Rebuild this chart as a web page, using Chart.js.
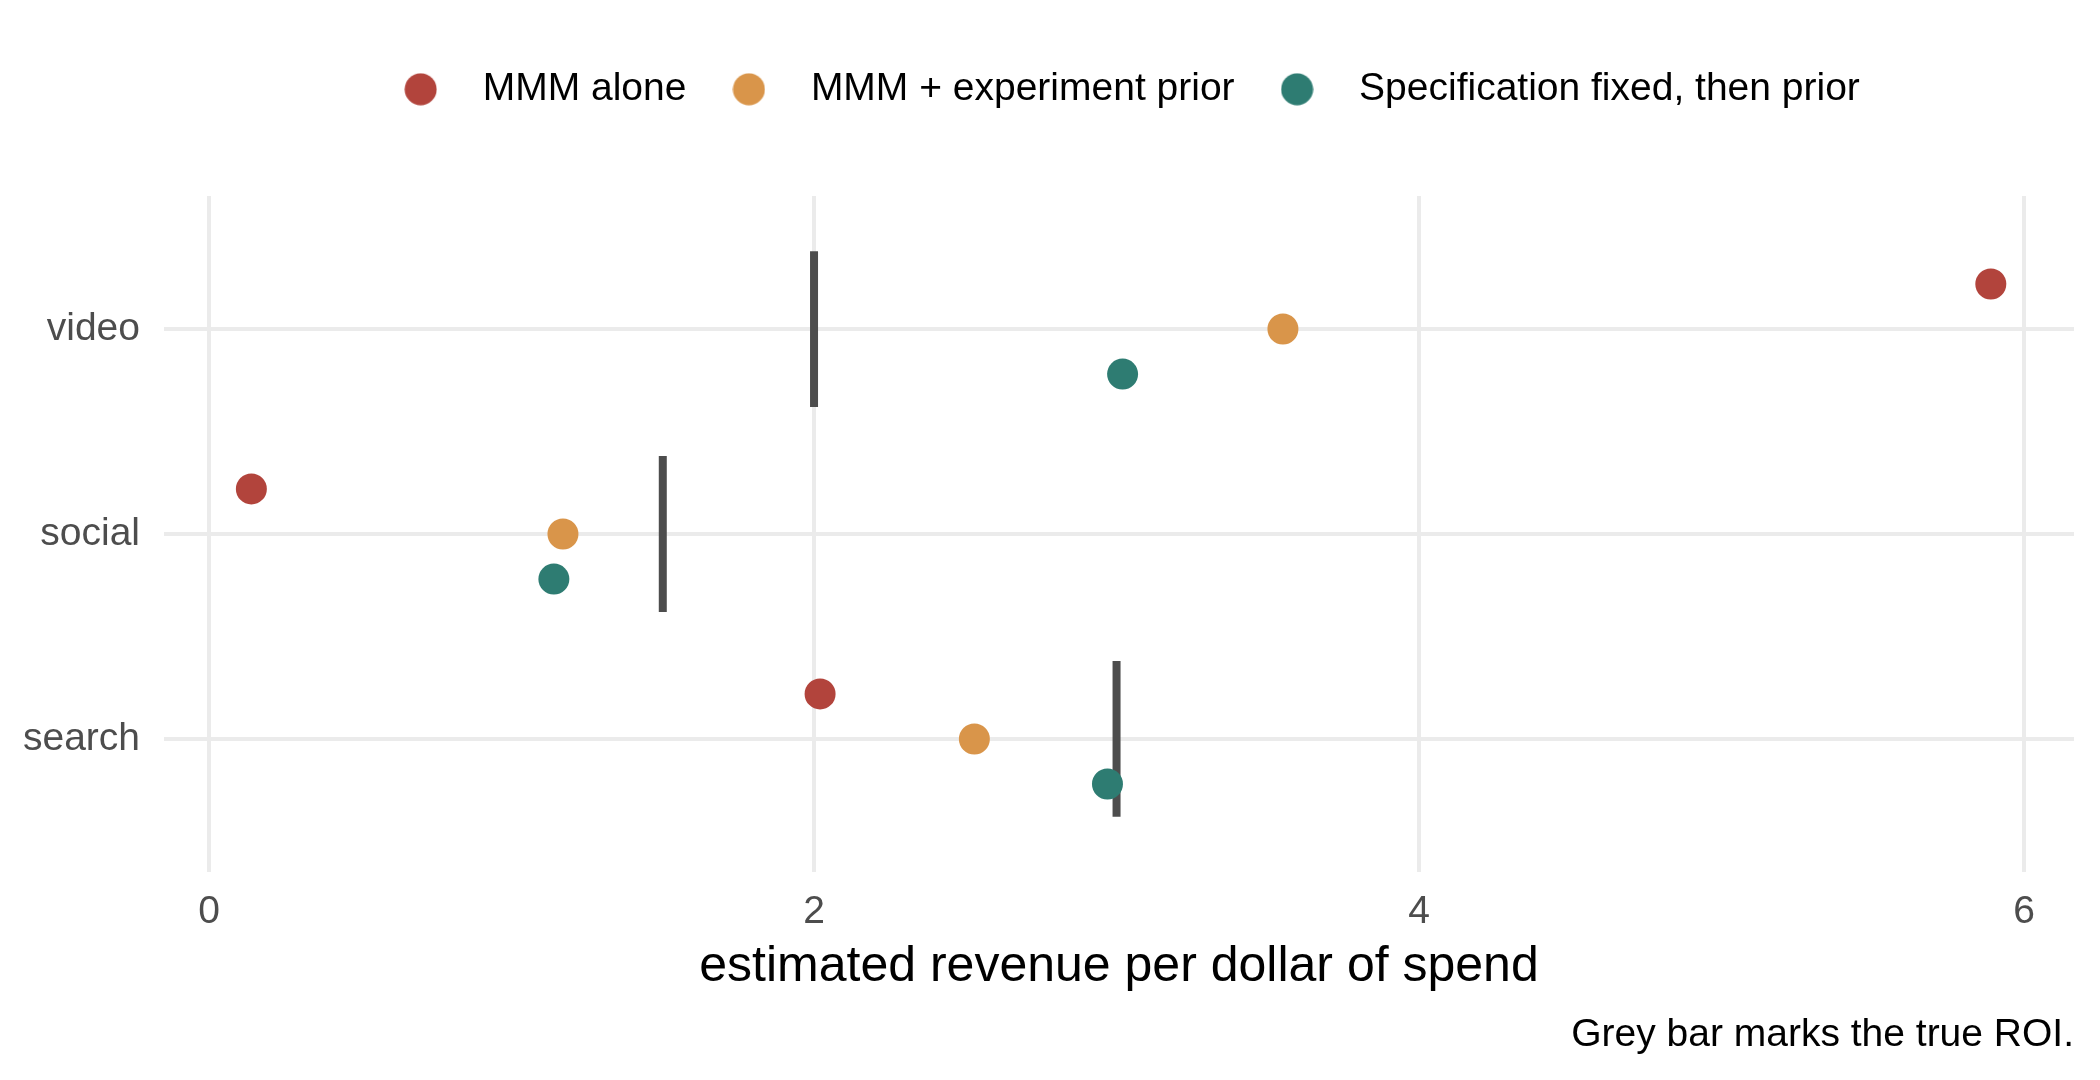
<!DOCTYPE html>
<html>
<head>
<meta charset="utf-8">
<title>ROI estimates by channel</title>
<script src="https://cdn.jsdelivr.net/npm/chart.js@4.4.1/dist/chart.umd.min.js"></script>
<style>
    body { margin: 0; background: #ffffff; }
    #wrap { width: 2100px; height: 1080px; }
</style>
</head>
<body>
<div id="wrap"><canvas id="roiChart" width="2100" height="1080"></canvas></div>
<script>
// Chart data
const channels = ['search', 'social', 'video'];
const seriesNames = ['MMM alone', 'MMM + experiment prior', 'Specification fixed, then prior'];
const mmmAlone = [2.02, 0.14, 5.89];
const mmmPrior = [2.53, 1.17, 3.55];
const specPrior = [2.97, 1.14, 3.02];
const trueRoi = [3.0, 1.5, 2.0];
const xTicks = [0, 2, 4, 6];

const colors = ['#b2443c', '#d9954a', '#2e7c72'];
const barColor = '#4d4d4d';
const gridColor = '#ebebeb';
const fontFamily = '"Liberation Sans", Arial, sans-serif';

// vertical dodge of the three series inside a channel row, and half length of the grey bar
const dodge = [0.22, 0, -0.22];
const barHalf = 0.38;

function pointsFor(values, k) {
    return values.map(function(v, i) {
        return { x: v, y: i + 1 + dodge[k] };
    });
}

// grey bars: two points per channel, a null point breaks the line between them
var barPoints = [];
trueRoi.forEach(function(v, i) {
    barPoints.push({ x: v, y: i + 1 - barHalf });
    barPoints.push({ x: v, y: i + 1 + barHalf });
    barPoints.push({ x: v, y: null });
});

// legend circle, drawn on a small canvas so the gap to the text can be set freely
function legendDot(color) {
    var c = document.createElement('canvas');
    c.width = 33;
    c.height = 33;
    var g = c.getContext('2d');
    g.fillStyle = color;
    g.beginPath();
    g.arc(16.5, 16.5, 16, 0, Math.PI * 2);
    g.fill();
    return c;
}

// push the plot panel down below the legend
const legendSpacer = {
    id: 'legendSpacer',
    beforeInit: function(chart) {
        var origFit = chart.legend.fit;
        chart.legend.fit = function() {
            origFit.bind(chart.legend)();
            this.height += 77.2;
        };
    }
};

var datasets = [mmmAlone, mmmPrior, specPrior].map(function(values, k) {
    return {
        label: seriesNames[k],
        data: pointsFor(values, k),
        backgroundColor: colors[k],
        borderColor: colors[k],
        pointRadius: 15.5,
        pointHoverRadius: 15.5,
        pointBorderWidth: 0
    };
});
datasets.push({
    label: 'true ROI',
    data: barPoints,
    showLine: true,
    spanGaps: false,
    borderColor: barColor,
    backgroundColor: barColor,
    borderWidth: 8,
    borderCapStyle: 'butt',
    pointRadius: 0,
    pointHoverRadius: 0
});

const ctx = document.getElementById('roiChart').getContext('2d');
new Chart(ctx, {
    type: 'scatter',
    data: { datasets: datasets },
    plugins: [legendSpacer],
    options: {
        responsive: false,
        animation: false,
        devicePixelRatio: 1,
        layout: { padding: { top: 49.8, right: 26, bottom: 0, left: 0 } },
        scales: {
            x: {
                type: 'linear',
                min: -0.1488,
                max: 6.165,
                afterBuildTicks: function(scale) {
                    scale.ticks = xTicks.map(function(v) { return { value: v }; });
                },
                afterFit: function(scale) { scale.height = 125.5; },
                grid: { color: gridColor, lineWidth: 4, drawTicks: false },
                border: { display: false },
                ticks: {
                    padding: 17.3,
                    color: '#4d4d4d',
                    font: { family: fontFamily, size: 39 }
                },
                title: {
                    display: true,
                    text: 'estimated revenue per dollar of spend',
                    color: '#000000',
                    padding: 0,
                    font: { family: fontFamily, size: 50 }
                }
            },
            y: {
                type: 'linear',
                min: 0.351,
                max: 3.649,
                afterBuildTicks: function(scale) {
                    scale.ticks = channels.map(function(c, i) { return { value: i + 1 }; });
                },
                afterFit: function(scale) { scale.width = 164; },
                grid: { color: gridColor, lineWidth: 4, drawTicks: false },
                border: { display: false },
                ticks: {
                    padding: 24,
                    color: '#4d4d4d',
                    font: { family: fontFamily, size: 39 },
                    callback: function(value) { return channels[value - 1]; }
                }
            }
        },
        plugins: {
            legend: {
                position: 'top',
                fullSize: false,
                labels: {
                    usePointStyle: true,
                    pointStyleWidth: 85,
                    boxHeight: 33,
                    padding: 20,
                    color: '#000000',
                    font: { family: fontFamily, size: 39 },
                    filter: function(item) { return item.datasetIndex < 3; },
                    generateLabels: function(chart) {
                        var items = Chart.defaults.plugins.legend.labels.generateLabels(chart);
                        items.forEach(function(item) {
                            if (item.datasetIndex < 3) item.pointStyle = legendDot(colors[item.datasetIndex]);
                        });
                        return items;
                    }
                }
            },
            title: {
                display: true,
                position: 'bottom',
                align: 'end',
                text: 'Grey bar marks the true ROI.',
                color: '#000000',
                font: { family: fontFamily, size: 39, weight: 'normal' },
                padding: { top: 14.1, bottom: 21.6 }
            },
            tooltip: { enabled: false }
        }
    }
});
</script>
</body>
</html>
